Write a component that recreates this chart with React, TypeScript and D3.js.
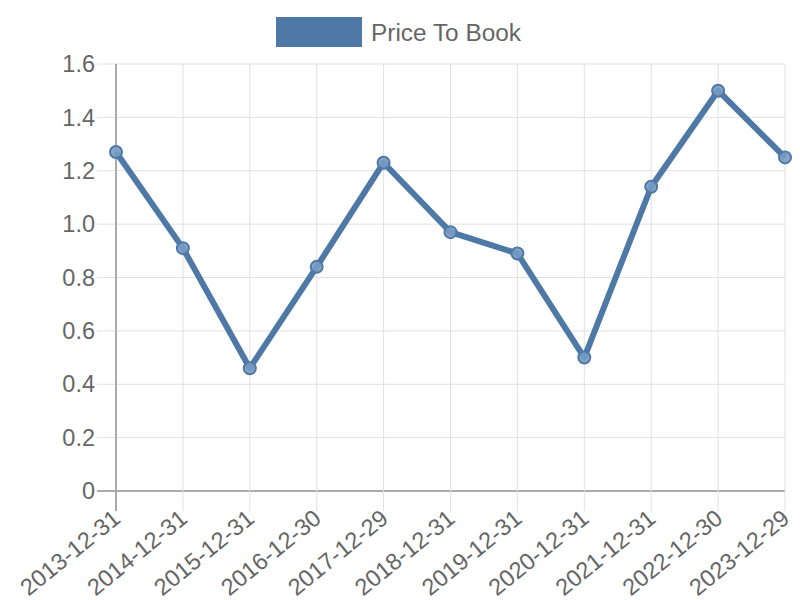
import React from "react";
import * as d3 from "d3";

const categories = ["2013-12-31","2014-12-31","2015-12-31","2016-12-30","2017-12-29","2018-12-31","2019-12-31","2020-12-31","2021-12-31","2022-12-30","2023-12-29"];
const values = [1.27, 0.91, 0.46, 0.84, 1.23, 0.97, 0.89, 0.50, 1.14, 1.50, 1.25];
const yTicks = [0, 0.2, 0.4, 0.6, 0.8, 1.0, 1.2, 1.4, 1.6];
const seriesName = "Price To Book";

export default function App() {
  const W = 800, H = 600;
  const left = 116, right = 785, top = 64, bottom = 491;
  const x = d3.scalePoint<string>().domain(categories).range([left, right]);
  const y = d3.scaleLinear().domain([0, 1.6]).range([bottom, top]);
  const line = d3.line<number>().x((_, i) => x(categories[i])!).y(d => y(d));
  const color = "#4e79a7";
  const fmt = (v: number) => (v === 0 ? "0" : v.toFixed(1));
  return (
    <svg width={W} height={H} style={{ position: "absolute", left: 0, top: 0, fontFamily: "Liberation Sans, Arial, sans-serif" }}>
      <rect x={0} y={0} width={W} height={H} fill="#fff" />
      {yTicks.map(t => (
        <g key={t}>
          <line x1={97} x2={right} y1={y(t)} y2={y(t)} stroke={t === 0 ? "#aaa" : "#e0e0e0"} strokeWidth={t === 0 ? 2 : 1} />
          <text x={95} y={y(t)} dy="0.35em" textAnchor="end" fontSize={23.5} fill="#666">{fmt(t)}</text>
        </g>
      ))}
      {categories.map((c, i) => (
        <g key={c}>
          <line x1={x(c)} x2={x(c)} y1={top} y2={bottom + 20} stroke={i === 0 ? "#aaa" : "#e0e0e0"} strokeWidth={i === 0 ? 2 : 1} />
          <text transform={`translate(${x(c)! + 6},${bottom + 30}) rotate(-39)`} textAnchor="end" fontSize={23.5} fill="#666">{c}</text>
        </g>
      ))}
      <path d={line(values)!} fill="none" stroke={color} strokeWidth={6} strokeLinejoin="round" />
      {values.map((v, i) => (
        <circle key={i} cx={x(categories[i])} cy={y(v)} r={6} fill="rgba(120,155,195,0.9)" stroke={color} strokeWidth={2} />
      ))}
      <rect x={276} y={17} width={86} height={30} fill={color} />
      <text x={371} y={32} dy="0.35em" fontSize={24.4} fill="#666">{seriesName}</text>
    </svg>
  );
}
